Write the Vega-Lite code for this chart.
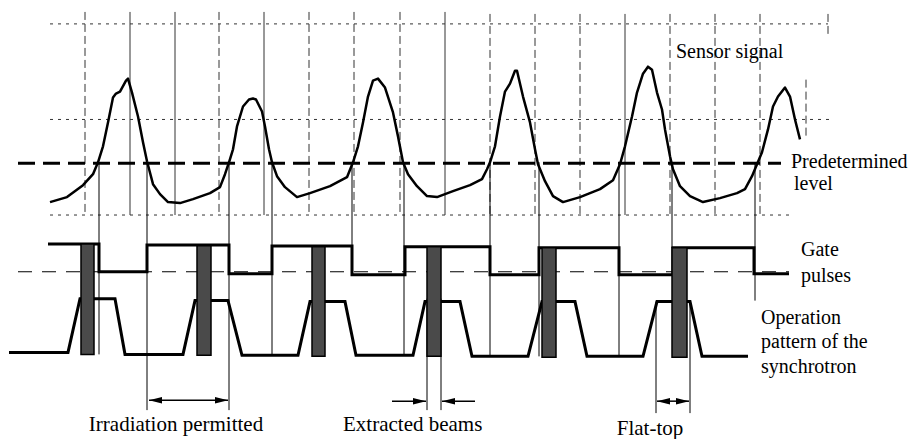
{
  "$schema": "https://vega.github.io/schema/vega-lite/v6.json",
  "width": 918,
  "height": 439,
  "padding": 0,
  "autosize": {"type": "fit", "contains": "padding"},
  "background": "white",
  "config": {"view": {"stroke": null}},
  "datasets": {
    "gridH": [
      {"t": 50, "t2": 828, "v": 24},
      {"t": 50, "t2": 830, "v": 120},
      {"t": 50, "t2": 790, "v": 216}
    ],
    "gridVsolid": [
      {"t": 130, "v": 12, "v2": 216},
      {"t": 175, "v": 12, "v2": 216},
      {"t": 264, "v": 12, "v2": 216},
      {"t": 445, "v": 12, "v2": 216},
      {"t": 625, "v": 14, "v2": 216}
    ],
    "gridVdash": [
      {"t": 85, "v": 12, "v2": 216},
      {"t": 219, "v": 12, "v2": 216},
      {"t": 309, "v": 12, "v2": 216},
      {"t": 354, "v": 12, "v2": 216},
      {"t": 400, "v": 12, "v2": 216},
      {"t": 490, "v": 14, "v2": 216},
      {"t": 535, "v": 14, "v2": 216},
      {"t": 580, "v": 14, "v2": 216},
      {"t": 670, "v": 14, "v2": 216},
      {"t": 715, "v": 14, "v2": 216},
      {"t": 760, "v": 14, "v2": 216},
      {"t": 806, "v": 80, "v2": 140},
      {"t": 828, "v": 14, "v2": 34}
    ],
    "signal": [
      {"t": 50, "v": 203}, {"t": 67, "v": 198}, {"t": 83, "v": 186}, {"t": 93, "v": 175},
      {"t": 98, "v": 163}, {"t": 103, "v": 147}, {"t": 108, "v": 123}, {"t": 113, "v": 98},
      {"t": 116, "v": 94}, {"t": 120, "v": 92}, {"t": 126, "v": 81}, {"t": 128, "v": 79},
      {"t": 132, "v": 93}, {"t": 138, "v": 117}, {"t": 143, "v": 143}, {"t": 147, "v": 162},
      {"t": 153, "v": 185}, {"t": 160, "v": 195}, {"t": 168, "v": 203}, {"t": 180, "v": 204},
      {"t": 193, "v": 200}, {"t": 210, "v": 194}, {"t": 220, "v": 188}, {"t": 225, "v": 175},
      {"t": 229, "v": 163}, {"t": 233, "v": 150}, {"t": 237, "v": 127}, {"t": 243, "v": 107},
      {"t": 249, "v": 100}, {"t": 253, "v": 99}, {"t": 256, "v": 100}, {"t": 262, "v": 112},
      {"t": 265, "v": 127}, {"t": 269, "v": 150}, {"t": 272, "v": 163}, {"t": 277, "v": 177},
      {"t": 285, "v": 188}, {"t": 297, "v": 198}, {"t": 310, "v": 194}, {"t": 330, "v": 187},
      {"t": 347, "v": 178}, {"t": 353, "v": 163}, {"t": 358, "v": 147}, {"t": 363, "v": 123},
      {"t": 368, "v": 97}, {"t": 373, "v": 81}, {"t": 378, "v": 79}, {"t": 385, "v": 88},
      {"t": 393, "v": 113}, {"t": 398, "v": 137}, {"t": 403, "v": 163}, {"t": 408, "v": 175},
      {"t": 417, "v": 187}, {"t": 427, "v": 197}, {"t": 437, "v": 198}, {"t": 453, "v": 192},
      {"t": 470, "v": 186}, {"t": 482, "v": 180}, {"t": 487, "v": 170}, {"t": 490, "v": 163},
      {"t": 495, "v": 147}, {"t": 500, "v": 117}, {"t": 505, "v": 92}, {"t": 510, "v": 84},
      {"t": 515, "v": 71}, {"t": 517, "v": 71}, {"t": 523, "v": 97}, {"t": 530, "v": 123},
      {"t": 535, "v": 150}, {"t": 538, "v": 165}, {"t": 545, "v": 182}, {"t": 553, "v": 197},
      {"t": 563, "v": 203}, {"t": 580, "v": 198}, {"t": 600, "v": 190}, {"t": 613, "v": 181},
      {"t": 620, "v": 165}, {"t": 625, "v": 147}, {"t": 632, "v": 117}, {"t": 637, "v": 93},
      {"t": 643, "v": 74}, {"t": 648, "v": 67}, {"t": 652, "v": 70}, {"t": 657, "v": 93},
      {"t": 662, "v": 110}, {"t": 665, "v": 130}, {"t": 670, "v": 157}, {"t": 673, "v": 170},
      {"t": 680, "v": 187}, {"t": 690, "v": 197}, {"t": 703, "v": 203}, {"t": 720, "v": 199},
      {"t": 737, "v": 194}, {"t": 745, "v": 190}, {"t": 752, "v": 177}, {"t": 757, "v": 165},
      {"t": 762, "v": 153}, {"t": 768, "v": 130}, {"t": 773, "v": 107}, {"t": 778, "v": 97},
      {"t": 785, "v": 88}, {"t": 790, "v": 97}, {"t": 795, "v": 120}, {"t": 800, "v": 140}
    ],
    "level": [{"t": 18, "t2": 781, "v": 164}],
    "gateBase": [{"t": 18, "t2": 789, "v": 273}],
    "vlines": [
      {"t": 99, "v": 163, "v2": 356},
      {"t": 147, "v": 163, "v2": 412},
      {"t": 229, "v": 163, "v2": 412},
      {"t": 272, "v": 163, "v2": 357},
      {"t": 352, "v": 163, "v2": 276},
      {"t": 404, "v": 163, "v2": 357},
      {"t": 490, "v": 163, "v2": 358},
      {"t": 539, "v": 163, "v2": 358},
      {"t": 619, "v": 163, "v2": 358},
      {"t": 672, "v": 163, "v2": 249},
      {"t": 755, "v": 163, "v2": 302},
      {"t": 427, "v": 300, "v2": 412},
      {"t": 441, "v": 300, "v2": 412},
      {"t": 656, "v": 303, "v2": 415},
      {"t": 690, "v": 303, "v2": 415}
    ],
    "gate": [
      {"t": 48, "v": 245}, {"t": 99, "v": 245}, {"t": 99, "v": 273}, {"t": 147, "v": 273},
      {"t": 147, "v": 246}, {"t": 229, "v": 246}, {"t": 229, "v": 275}, {"t": 272, "v": 275},
      {"t": 272, "v": 247}, {"t": 352, "v": 247}, {"t": 352, "v": 276}, {"t": 405, "v": 276},
      {"t": 405, "v": 248}, {"t": 490, "v": 248}, {"t": 490, "v": 276}, {"t": 539, "v": 276},
      {"t": 539, "v": 249}, {"t": 619, "v": 249}, {"t": 619, "v": 276}, {"t": 673, "v": 276},
      {"t": 673, "v": 249}, {"t": 754, "v": 249}, {"t": 754, "v": 275}, {"t": 789, "v": 275}
    ],
    "oper": [
      {"t": 9, "v": 354}, {"t": 68, "v": 354}, {"t": 80, "v": 300}, {"t": 115, "v": 300},
      {"t": 125, "v": 356}, {"t": 183, "v": 356}, {"t": 195, "v": 302}, {"t": 228, "v": 302},
      {"t": 242, "v": 357}, {"t": 298, "v": 357}, {"t": 310, "v": 303}, {"t": 345, "v": 303},
      {"t": 356, "v": 357}, {"t": 413, "v": 357}, {"t": 425, "v": 303}, {"t": 460, "v": 303},
      {"t": 472, "v": 358}, {"t": 528, "v": 358}, {"t": 542, "v": 303}, {"t": 575, "v": 303},
      {"t": 587, "v": 358}, {"t": 643, "v": 358}, {"t": 657, "v": 303}, {"t": 690, "v": 303},
      {"t": 702, "v": 358}, {"t": 748, "v": 358}
    ],
    "beams": [
      {"t": 81, "t2": 94, "v": 245, "v2": 356},
      {"t": 197, "t2": 211, "v": 247, "v2": 357},
      {"t": 312, "t2": 325, "v": 248, "v2": 358},
      {"t": 427, "t2": 441, "v": 248, "v2": 358},
      {"t": 542, "t2": 556, "v": 249, "v2": 359},
      {"t": 672, "t2": 687, "v": 249, "v2": 359}
    ],
    "shafts": [
      {"t": 149, "t2": 228, "v": 402},
      {"t": 392, "t2": 426, "v": 403},
      {"t": 442, "t2": 475, "v": 403},
      {"t": 657, "t2": 689, "v": 403}
    ],
    "heads": [
      {"t": 149, "v": 402, "dir": "left"},
      {"t": 228, "v": 402, "dir": "right"},
      {"t": 426, "v": 403, "dir": "right"},
      {"t": 442, "v": 403, "dir": "left"},
      {"t": 657, "v": 403, "dir": "left"},
      {"t": 689, "v": 403, "dir": "right"}
    ],
    "labelsSide": [
      {"t": 676, "v": 58, "label": "Sensor signal"},
      {"t": 791, "v": 169, "label": "Predetermined"},
      {"t": 794, "v": 191, "label": "level"},
      {"t": 801, "v": 257, "label": "Gate"},
      {"t": 801, "v": 283, "label": "pulses"},
      {"t": 761, "v": 325, "label": "Operation"},
      {"t": 761, "v": 350, "label": "pattern of the"},
      {"t": 761, "v": 375, "label": "synchrotron"}
    ],
    "labelsBottomLeft": [
      {"t": 343, "v": 433, "label": "Extracted beams"}
    ],
    "labelsBottomCenter": [
      {"t": 176, "v": 433, "label": "Irradiation permitted"},
      {"t": 650, "v": 437, "label": "Flat-top"}
    ]
  },
  "encoding": {
    "x": {"field": "t", "type": "quantitative", "scale": {"domain": [0, 918], "nice": false, "zero": false}, "axis": null},
    "y": {"field": "v", "type": "quantitative", "scale": {"domain": [0, 439], "reverse": true, "nice": false, "zero": false}, "axis": null}
  },
  "layer": [
    {
      "data": {"name": "gridH"},
      "mark": {"type": "rule", "stroke": "#333", "strokeWidth": 1, "strokeDash": [3, 5]},
      "encoding": {"x2": {"field": "t2"}}
    },
    {
      "data": {"name": "gridVsolid"},
      "mark": {"type": "rule", "stroke": "#333", "strokeWidth": 1},
      "encoding": {"y2": {"field": "v2"}}
    },
    {
      "data": {"name": "gridVdash"},
      "mark": {"type": "rule", "stroke": "#333", "strokeWidth": 1, "strokeDash": [8, 4]},
      "encoding": {"y2": {"field": "v2"}}
    },
    {
      "data": {"name": "level"},
      "mark": {"type": "rule", "stroke": "black", "strokeWidth": 3, "strokeDash": [17, 8]},
      "encoding": {"x2": {"field": "t2"}}
    },
    {
      "data": {"name": "gateBase"},
      "mark": {"type": "rule", "stroke": "black", "strokeWidth": 1, "strokeDash": [14, 10]},
      "encoding": {"x2": {"field": "t2"}}
    },
    {
      "data": {"name": "vlines"},
      "mark": {"type": "rule", "stroke": "black", "strokeWidth": 1},
      "encoding": {"y2": {"field": "v2"}}
    },
    {
      "data": {"name": "signal"},
      "transform": [{"window": [{"op": "row_number", "as": "i"}]}],
      "mark": {"type": "line", "stroke": "black", "strokeWidth": 2.5, "strokeJoin": "round"},
      "encoding": {"order": {"field": "i", "type": "quantitative"}}
    },
    {
      "data": {"name": "gate"},
      "transform": [{"window": [{"op": "row_number", "as": "i"}]}],
      "mark": {"type": "line", "stroke": "black", "strokeWidth": 3, "strokeJoin": "miter"},
      "encoding": {"order": {"field": "i", "type": "quantitative"}}
    },
    {
      "data": {"name": "oper"},
      "transform": [{"window": [{"op": "row_number", "as": "i"}]}],
      "mark": {"type": "line", "stroke": "black", "strokeWidth": 3, "strokeJoin": "miter"},
      "encoding": {"order": {"field": "i", "type": "quantitative"}}
    },
    {
      "data": {"name": "beams"},
      "mark": {"type": "rect", "fill": "#4a4a4a", "stroke": "black", "strokeWidth": 1.5},
      "encoding": {"x2": {"field": "t2"}, "y2": {"field": "v2"}}
    },
    {
      "data": {"name": "shafts"},
      "mark": {"type": "rule", "stroke": "black", "strokeWidth": 1.5},
      "encoding": {"x2": {"field": "t2"}}
    },
    {
      "data": {"name": "heads"},
      "transform": [{"filter": "datum.dir === 'left'"}],
      "mark": {"type": "point", "shape": "M0,0L2,-0.5L2,0.5Z", "filled": true, "fill": "black", "stroke": null, "size": 169, "opacity": 1}
    },
    {
      "data": {"name": "heads"},
      "transform": [{"filter": "datum.dir === 'right'"}],
      "mark": {"type": "point", "shape": "M0,0L-2,-0.5L-2,0.5Z", "filled": true, "fill": "black", "stroke": null, "size": 169, "opacity": 1}
    },
    {
      "data": {"name": "labelsSide"},
      "mark": {"type": "text", "font": "Liberation Serif", "fontSize": 20, "align": "left", "baseline": "alphabetic", "color": "black"},
      "encoding": {"text": {"field": "label"}}
    },
    {
      "data": {"name": "labelsBottomLeft"},
      "mark": {"type": "text", "font": "Liberation Serif", "fontSize": 21, "align": "left", "baseline": "alphabetic", "color": "black"},
      "encoding": {"text": {"field": "label"}}
    },
    {
      "data": {"name": "labelsBottomCenter"},
      "mark": {"type": "text", "font": "Liberation Serif", "fontSize": 21, "align": "center", "baseline": "alphabetic", "color": "black"},
      "encoding": {"text": {"field": "label"}}
    }
  ]
}
